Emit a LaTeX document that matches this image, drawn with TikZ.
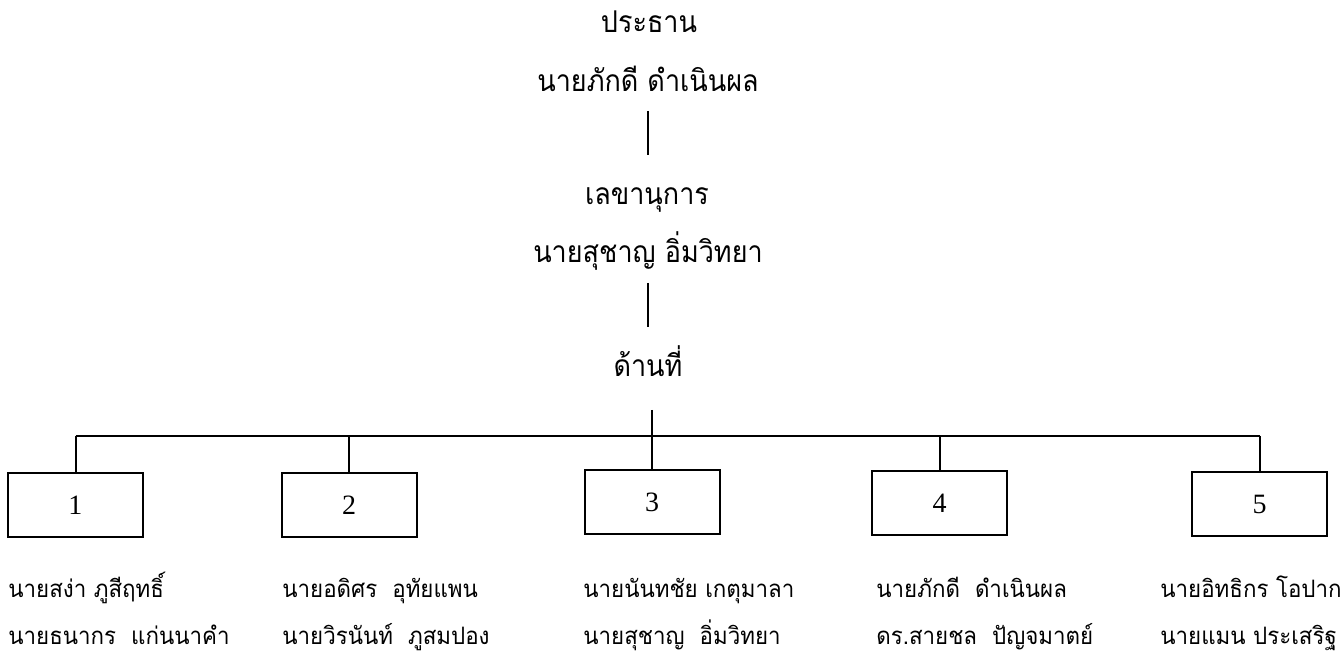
\documentclass[tikz,border=0pt]{standalone}
\usepackage{fontspec}
\usepackage{tikz}
\usetikzlibrary{positioning}
\newfontfamily\thaifont[Script=Thai, FakeStretch=0.9]{Loma}
\newfontfamily\memberfont[Script=Thai, FakeStretch=0.93]{Loma}
\newfontfamily\numfont{Liberation Serif}
\tikzstyle{title} = [anchor=base, inner sep=0pt, font=\thaifont\fontsize{15}{17}\selectfont]
\tikzstyle{member} = [anchor=base west, inner sep=0pt, font=\memberfont\fontsize{12}{14}\selectfont]
\tikzstyle{unit} = [rectangle, draw=black, line width=1pt, minimum width=67.5pt, minimum height=32pt, inner sep=0pt, font=\numfont\fontsize{14}{16}\selectfont]
\tikzstyle{link} = [draw, line width=1pt]

\begin{document}
\begin{tikzpicture}[x=0.5pt, y=-0.5pt]
\useasboundingbox (0,0) rectangle (1341,657);

% heads =============================
\node[title] (chair) at (649,33) {ประธาน};
\node[title] (chairname) at (648,92) {นายภักดี ดำเนินผล};
\node[title] (sec) at (647,205) {เลขานุการ};
\node[title] (secname) at (648,263) {นายสุชาญ อิ่มวิทยา};
\node[title] (dept) at (648,377) {ด้านที่};

% units
\node[unit] (box1) at (75.5,505) {1};
\node[unit] (box2) at (349,505) {2};
\node[unit] (box3) at (652,502.5) {3};
\node[unit] (box4) at (939.5,503) {4};
\node[unit] (box5) at (1259.5,504.5) {5};
\coordinate (bus) at (650,436);

% members
\node[member] (m1a) at (8,598) {นายสง่า ภูสีฤทธิ์};
\node[member] (m1b) at (8,645) {นายธนากร\ \ แก่นนาคำ};
\node[member] (m2a) at (282,598) {นายอดิศร\ \ อุทัยแพน};
\node[member] (m2b) at (282,645) {นายวิรนันท์\ \ ภูสมปอง};
\node[member] (m3a) at (583,598) {นายนันทชัย เกตุมาลา};
\node[member] (m3b) at (583,645) {นายสุชาญ\ \ อิ่มวิทยา};
\node[member] (m4a) at (876,598) {นายภักดี\ \ ดำเนินผล};
\node[member] (m4b) at (876,645) {ดร.สายชล\ \ ปัญจมาตย์};
\node[member] (m5a) at (1160,598) {นายอิทธิกร โอปาก};
\node[member] (m5b) at (1160,645) {นายแมน ประเสริฐ};

%edges
\path[link, shorten <=9.5pt, shorten >=25pt] (chairname.base) -- (chairname.base |- sec.base);
\path[link, shorten <=10pt, shorten >=25pt] (secname.base) -- (secname.base |- dept.base);
\path[link, shorten <=16.5pt] (box3.north |- dept.base) -- (box3.north);
\path[link] (bus -| box1.north) -- (bus -| box5.north);
\path[link] (bus -| box1.north) -- (box1.north);
\path[link] (bus -| box2.north) -- (box2.north);
\path[link] (bus -| box4.north) -- (box4.north);
\path[link] (bus -| box5.north) -- (box5.north);

\end{tikzpicture}
\end{document}
